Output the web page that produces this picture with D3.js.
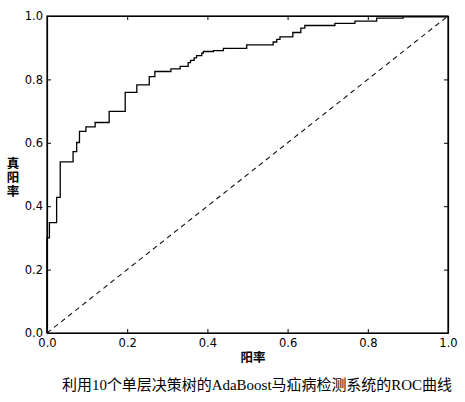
<!DOCTYPE html>
<html><head><meta charset="utf-8">
<script src="https://cdn.jsdelivr.net/npm/d3@7"></script>
<style>
html,body{margin:0;padding:0;background:#fff;}
svg{display:block;}
</style></head>
<body>
<svg id="c" width="465" height="402"></svg>
<script>
// ROC curve vertices (false positive rate, true positive rate), step-after
const fpr = [0, 0, 0.006, 0.024, 0.033, 0.065, 0.074, 0.081, 0.097, 0.12, 0.155, 0.195, 0.224, 0.255, 0.269, 0.309, 0.332, 0.352, 0.358, 0.367, 0.373, 0.386, 0.39, 0.415, 0.44, 0.498, 0.564, 0.573, 0.581, 0.613, 0.633, 0.643, 0.718, 0.768, 0.822, 0.888, 1.0];
const tpr = [0, 0.30, 0.348, 0.428, 0.540, 0.572, 0.601, 0.636, 0.650, 0.664, 0.699, 0.759, 0.783, 0.809, 0.825, 0.833, 0.841, 0.853, 0.860, 0.868, 0.875, 0.883, 0.888, 0.891, 0.898, 0.909, 0.918, 0.926, 0.934, 0.948, 0.962, 0.970, 0.977, 0.984, 0.993, 0.997, 1.0];
const diagX = [0, 1];
const diagY = [0, 1];
const xTicks = [0, 0.2, 0.4, 0.6, 0.8, 1.0];
const yTicks = [0, 0.2, 0.4, 0.6, 0.8, 1.0];
const xLabel = "阳率";
const yLabel = "真阳率";
const caption = "利用10个单层决策树的AdaBoost马疝病检测系统的ROC曲线";

const svg = d3.select("#c");
const x = d3.scaleLinear().domain([0, 1]).range([47, 448]);
const y = d3.scaleLinear().domain([0, 1]).range([333, 16]);
const fmt = d3.format(".1f");
const tickFont = "'DejaVu Sans', sans-serif";
const cjk = "'Noto Sans CJK SC', sans-serif";

// diagonal
svg.append("path")
  .attr("d", d3.line().x((d,i)=>x(diagX[i])).y((d,i)=>y(diagY[i]))(diagX))
  .attr("fill", "none").attr("stroke", "#111").attr("stroke-width", 1.1)
  .attr("stroke-dasharray", "5,4");

// ROC curve
svg.append("path")
  .attr("d", d3.line().curve(d3.curveStepAfter).x((d,i)=>x(fpr[i])).y((d,i)=>y(tpr[i]))(fpr))
  .attr("fill", "none").attr("stroke", "#000").attr("stroke-width", 1.3);

// axes (inward ticks)
const ax = (g) => g.selectAll("text").attr("font-family", tickFont).attr("font-size", 11.5).attr("fill", "#000");
svg.append("g").attr("transform", `translate(0,${y(0)})`)
  .call(d3.axisBottom(x).tickValues(xTicks).tickFormat(fmt).tickSizeInner(-4).tickSizeOuter(0).tickPadding(6))
  .call(ax);
svg.append("g").attr("transform", `translate(0,${y(1)})`)
  .call(d3.axisTop(x).tickValues(xTicks).tickFormat("").tickSizeInner(-4).tickSizeOuter(0));
svg.append("g").attr("transform", `translate(${x(0)},0)`)
  .call(d3.axisLeft(y).tickValues(yTicks).tickFormat(fmt).tickSizeInner(-4).tickSizeOuter(0).tickPadding(4))
  .call(ax);
svg.append("g").attr("transform", `translate(${x(1)},0)`)
  .call(d3.axisRight(y).tickValues(yTicks).tickFormat("").tickSizeInner(-4).tickSizeOuter(0));
svg.selectAll(".domain").attr("stroke", "#000").attr("stroke-width", 1.2);
svg.selectAll(".tick line").attr("stroke", "#000");

// frame
svg.append("rect").attr("x", x(0)).attr("y", y(1))
  .attr("width", x(1) - x(0)).attr("height", y(0) - y(1))
  .attr("fill", "none").attr("stroke", "#000").attr("stroke-width", 1.2);

// axis labels
svg.append("text").attr("x", 253).attr("y", 362).attr("text-anchor", "middle")
  .attr("font-family", cjk).attr("font-size", 12.5).attr("font-weight", "bold")
  .text(xLabel);
svg.append("text").attr("x", 13).attr("y", 157)
  .attr("writing-mode", "vertical-rl").attr("style", "writing-mode:vertical-rl;text-orientation:upright")
  .attr("letter-spacing", 1.5)
  .attr("font-family", cjk).attr("font-size", 12.5).attr("font-weight", "bold")
  .text(yLabel);

// caption: Latin runs in serif, CJK runs in CJK font
const cap = svg.append("text").attr("x", 257).attr("y", 390).attr("text-anchor", "middle")
  .attr("font-size", 15).attr("fill", "#000")
  .attr("textLength", 390).attr("lengthAdjust", "spacingAndGlyphs");
cap.selectAll("tspan").data(caption.match(/[A-Za-z0-9]+|[^A-Za-z0-9]+/g)).join("tspan")
  .attr("font-family", d => /[A-Za-z0-9]/.test(d) ? "'Liberation Serif', serif" : cjk)
  .attr("fill", "#000")
  .text(d => d);
</script>
</body></html>
